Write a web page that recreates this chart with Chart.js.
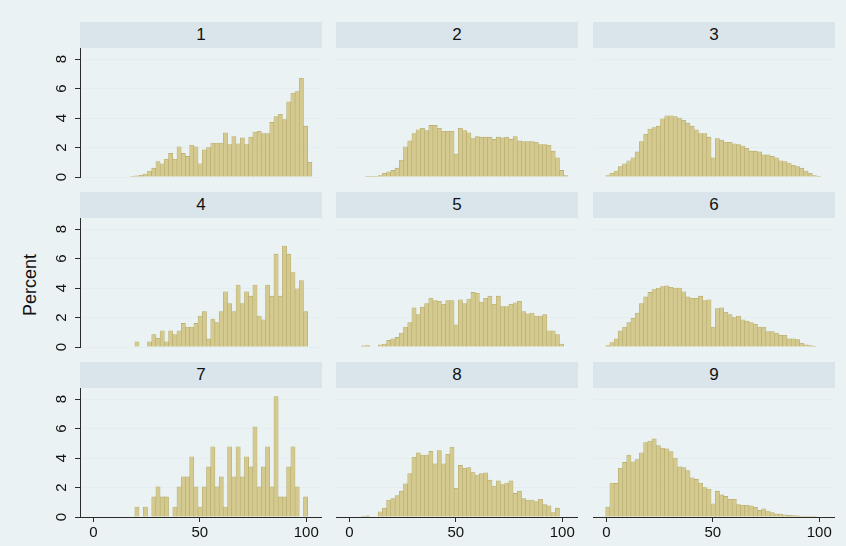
<!DOCTYPE html>
<html>
<head>
<meta charset="utf-8">
<script src="https://cdn.jsdelivr.net/npm/chart.js@4.4.1/dist/chart.umd.min.js"></script>
<style>
  body { margin: 0; background: #ffffff; }
  #fig { position: relative; width: 846px; height: 546px; background: #eaf2f3; overflow: hidden;
         font-family: "Liberation Sans", Arial, sans-serif; }
  .strip { position: absolute; height: 26px; line-height: 26px; background: #d9e5eb;
           text-align: center; font-size: 17px; color: #111; }
  .cv { position: absolute; }
  #ylab { position: absolute; left: -20px; top: 275px; width: 100px; height: 20px; line-height: 20px;
          text-align: center; font-size: 18px; color: #111; transform: rotate(-90deg); }
</style>
</head>
<body>
<div id="fig">
  <div id="ylab">Percent</div>
</div>
<script>
// histogram bins (same for all panels)
const binLo = -0.3;
const binW = 1.98;

// percent per bin, panel 1..9
const p1 = [0,0,0,0,0,0,0,0,0, 0.05,0.08,0.12,0.2, 0.4,0.6,1.05,0.9,1.2,1.6,1.2,2.05,1.6,1.4,
            2.15,2.05,0.9,1.85,2.0,2.3,2.3,2.3,3.0,2.2, 2.75,2.25,2.65,2.2,2.7,3.05,3.1,2.95,2.95,3.7,
            4.1,4.25,3.9,5.1,5.7,5.8,6.7,3.45,1.0];
const p2 = [0,0,0,0, 0.05,0.05,0.05,0.1,0.25,0.35,0.45,0.6,1.15,2.05,2.45,2.95,3.2,3.3,3.15,3.5,
            3.5,3.3,3.1,3.1,3.1,1.55,3.3,3.15,3.0,2.6, 2.75,2.7,2.7,2.7,2.55,2.7,2.65,2.7,2.55,2.75,
            2.45,2.4,2.4,2.4,2.35,2.2,2.2,2.15,1.75,1.3, 0.45,0.1];
const p3 = [0.1,0.25,0.4,0.7,0.9,1.1,1.3,1.7,2.4,2.9, 3.25,3.35,3.45,3.95,4.15,4.15,4.1,4.0,3.85,3.65,
            3.45,3.2,2.95,2.95,2.7,1.3,2.6,2.5,2.35,2.35, 2.25,2.2,2.1,1.95,1.75,1.75,1.7,1.5,1.5,1.4,
            1.3,1.1,1.05,0.95,0.8,0.7,0.6,0.4,0.25,0.1, 0.02,0];
const p4 = [0,0,0,0,0,0,0,0,0,0, 0.35,0,0,0.35,0.85,0.6,1.1,0.35,1.1,0.85, 1.1,1.6,1.35,1.35,1.6,2.1,2.4,0.55,1.9,1.65,
            2.4,3.75,2.95,2.4,4.2,2.95,3.75,3.45,4.2,2.1, 1.85,4.2,3.45,6.3,3.45,6.85,6.3,5.05,3.95,4.5,
            2.4,0];
const p5 = [0,0,0,0.08,0.1,0,0,0.15,0.2,0.45, 0.55,0.65,0.95,1.35,1.65,2.65,2.2,2.7,2.95,3.3,
            3.15,3.1,2.9,3.15,3.15,1.5,3.2,2.95,3.25,3.7, 3.65,3.05,3.3,3.45,2.9,3.45,2.75,2.75,2.9,3.0,
            3.1,2.4,2.25,2.3,2.1,2.1,2.2,1.1,1.1,0.85, 0.2,0];
const p6 = [0.1,0.3,0.55,1.1,1.35,1.65,1.95,2.3,2.95,3.4, 3.7,3.9,4.0,4.1,4.15,4.05,4.0,4.0,3.75,3.4,
            3.3,3.3,3.45,3.15,3.2,1.35,2.6,2.65,2.35,2.2, 2.0,2.1,1.85,1.75,1.65,1.55,1.35,1.35,1.05,1.05,
            0.95,0.8,0.8,0.55,0.55,0.5,0.25,0.15,0.1,0.05, 0,0];
const p7 = [0,0,0,0,0,0,0,0,0,0, 0.68,0,0.68,0,1.36,2.04,1.36,1.36,0,0.68, 2.04,2.72,2.72,4.08,2.04,0.68,2.04,3.4,4.76,2.04,
            2.72,0.68,4.76,2.72,4.76,2.72,4.08,3.4,6.12,2.04, 3.4,4.76,2.04,8.16,1.36,1.36,3.4,4.76,2.04,0,
            1.36,0];
const p8 = [0,0,0,0.05,0.08,0,0,0.35,0.6,1.15, 1.25,1.45,1.75,2.25,2.95,4.05,4.35,4.2,4.2,4.45,
            3.6,4.5,3.6,4.25,4.75,1.95,3.5,3.3,3.35,3.05, 2.85,2.95,3.0,2.5,2.1,2.45,2.2,2.3,2.45,1.6,
            1.75,1.25,1.15,1.15,1.05,1.2,0.85,0.75,0.3,0.6, 0,0];
const p9 = [0.68,2.3,2.28,3.3,3.7,4.2,3.75,3.9,4.36,5.05, 5.15,5.3,4.84,4.68,4.62,4.43,4.0,3.4,3.35,3.15,
            2.65,2.55,2.3,2.0,1.9,0.9,1.75,1.5,1.4,1.2, 1.2,0.85,0.8,0.8,0.75,0.65,0.45,0.55,0.4,0.3,
            0.22,0.2,0.15,0.12,0.1,0.08,0.05,0.04,0.03,0.02, 0,0];

const panelNames = ['1', '2', '3', '4', '5', '6', '7', '8', '9'];
const series = [p1, p2, p3, p4, p5, p6, p7, p8, p9];
const yTicks = [0, 2, 4, 6, 8];
const xTicks = [0, 50, 100];

const binCenters = p1.map((_, k) => binLo + binW * (k + 0.5));

const barFill = 'rgb(212,202,143)';
const barLine = 'rgb(182,170,108)';
const gridColor = '#e4edf0';
const axisColor = '#2b2b2b';
const fontFam = '"Liberation Sans", Arial, sans-serif';

// plot area of each column / row
const colLeft = [80, 336, 593];
const colRight = [322, 578, 835];
const rowTop = [48, 218, 388];
const rowBottom = [177, 347, 517];

const fig = document.getElementById('fig');

series.forEach((vals, i) => {
    const r = Math.floor(i / 3);
    const c = i % 3;
    const leftW = c === 0 ? 50 : 0;
    const botH = r === 2 ? 28 : 0;
    // room under the rotated "0" label when there is no x axis
    const padB = (c === 0 && r < 2) ? 8 : 0;

    const strip = document.createElement('div');
    strip.className = 'strip';
    strip.style.left = colLeft[c] + 'px';
    strip.style.top = (rowTop[r] - 26) + 'px';
    strip.style.width = (colRight[c] - colLeft[c]) + 'px';
    strip.textContent = panelNames[i];
    fig.appendChild(strip);

    const cv = document.createElement('canvas');
    cv.className = 'cv';
    const w = colRight[c] - colLeft[c] + leftW;
    const h = rowBottom[r] - rowTop[r] + botH + padB;
    cv.width = w;
    cv.height = h;
    cv.style.width = w + 'px';
    cv.style.height = h + 'px';
    cv.style.left = (colLeft[c] - leftW) + 'px';
    cv.style.top = rowTop[r] + 'px';
    fig.appendChild(cv);

    new Chart(cv.getContext('2d'), {
        type: 'bar',
        data: {
            datasets: [{
                data: binCenters.map((x, k) => ({ x: x, y: vals[k] > 0 ? vals[k] : null })),
                backgroundColor: barFill,
                borderColor: barLine,
                borderWidth: 0.6,
                barPercentage: 1,
                categoryPercentage: 1
            }]
        },
        options: {
            responsive: false,
            animation: false,
            devicePixelRatio: 1,
            layout: { padding: { left: 0, right: 0, top: 0, bottom: padB } },
            plugins: { legend: { display: false }, tooltip: { enabled: false } },
            scales: {
                x: {
                    type: 'linear',
                    min: -6.25,
                    max: 107.4,
                    offset: false,
                    display: r === 2,
                    afterBuildTicks: s => { s.ticks = xTicks.map(v => ({ value: v })); },
                    afterFit: s => { s.height = botH; s.paddingLeft = 0; s.paddingRight = 0; },
                    grid: { display: true, offset: false, drawOnChartArea: false, drawTicks: true, tickLength: 5, tickColor: axisColor },
                    border: { display: true, color: axisColor, width: 1 },
                    ticks: { color: '#111', padding: 2, maxRotation: 0, font: { family: fontFam, size: 15 } }
                },
                y: {
                    min: 0,
                    max: 8.75,
                    afterBuildTicks: s => { s.ticks = yTicks.map(v => ({ value: v })); },
                    afterFit: s => { s.width = leftW; s.paddingTop = 0; s.paddingBottom = 0; },
                    grid: { color: gridColor, lineWidth: 1, offset: false, drawTicks: c === 0, tickLength: 5, tickColor: axisColor },
                    border: { display: c === 0, color: axisColor, width: 1 },
                    ticks: {
                        display: c === 0, color: '#111', minRotation: 90, maxRotation: 90,
                        crossAlign: 'center', padding: 9, font: { family: fontFam, size: 15 }
                    }
                }
            }
        }
    });
});
</script>
</body>
</html>
